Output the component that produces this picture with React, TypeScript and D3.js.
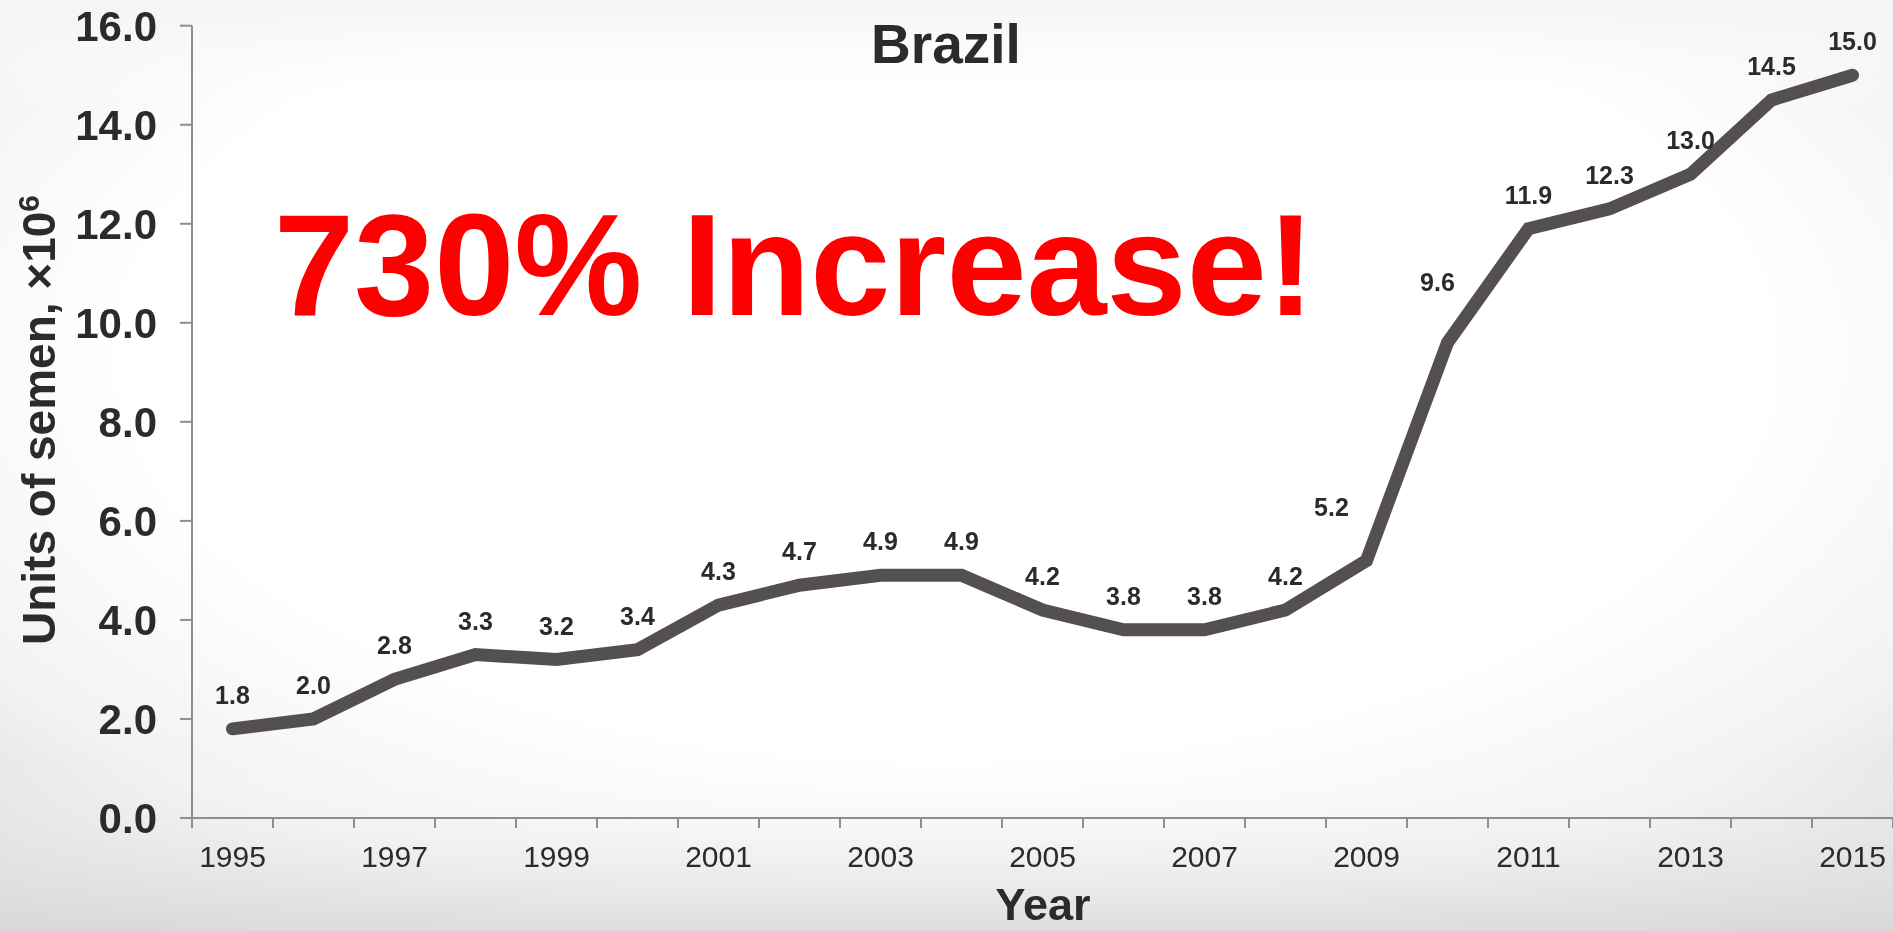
import React from "react";
import * as d3 from "d3";

const years = [1995, 1996, 1997, 1998, 1999, 2000, 2001, 2002, 2003, 2004, 2005, 2006, 2007, 2008, 2009, 2010, 2011, 2012, 2013, 2014, 2015];
const values = [1.8, 2.0, 2.8, 3.3, 3.2, 3.4, 4.3, 4.7, 4.9, 4.9, 4.2, 3.8, 3.8, 4.2, 5.2, 9.6, 11.9, 12.3, 13.0, 14.5, 15.0];
const yTicks = [0, 2, 4, 6, 8, 10, 12, 14, 16];
const xTickLabels = [1995, 1997, 1999, 2001, 2003, 2005, 2007, 2009, 2011, 2013, 2015];
const chartTitle = "Brazil";
const headline = "730% Increase!";
const xTitle = "Year";

const W = 1893;
const H = 931;
const FONT = "'Liberation Sans', Arial, Helvetica, sans-serif";
const TEXT = "#2e2a2a";
const AXIS = "#8e8e8e";
const LINE = "#545050";

// label nudges for the two labels placed off their points
const labelNudge: Record<number, [number, number]> = {
  2009: [-35, -45],
  2010: [-10, -52],
};

export default function App() {
  const x = d3.scaleBand<number>().domain(years).range([192, 1893]).paddingInner(0).paddingOuter(0);
  const y = d3.scaleLinear().domain([0, 16]).range([818, 25.7]);
  const bw = x.bandwidth();
  const data = years.map((yr, i) => ({ year: yr, value: values[i] }));
  const line = d3
    .line<{ year: number; value: number }>()
    .x((d) => (x(d.year) as number) + bw / 2)
    .y((d) => y(d.value));

  const boundaries = years.map((yr) => x(yr) as number).concat([(x(years[years.length - 1]) as number) + bw]);

  return (
    <svg
      width={W}
      height={H}
      style={{ position: "fixed", left: 0, top: 0, display: "block" }}
      fontFamily={FONT}
    >
      <defs>
        <radialGradient id="bg" cx="50%" cy="38%" r="78%" fx="50%" fy="38%">
          <stop offset="0" stopColor="#ffffff" />
          <stop offset="0.55" stopColor="#ffffff" />
          <stop offset="0.78" stopColor="#f2f2f2" />
          <stop offset="1" stopColor="#d6d6d6" />
        </radialGradient>
        <linearGradient id="topfade" x1="0" y1="0" x2="0" y2="1">
          <stop offset="0" stopColor="#f4f4f4" stopOpacity="1" />
          <stop offset="0.12" stopColor="#ffffff" stopOpacity="0" />
          <stop offset="0.82" stopColor="#ffffff" stopOpacity="0" />
          <stop offset="1" stopColor="#d9d9d9" stopOpacity="0.8" />
        </linearGradient>
      </defs>
      <rect x={0} y={0} width={W} height={H} fill="url(#bg)" />
      <rect x={0} y={0} width={W} height={H} fill="url(#topfade)" />

      {/* y axis */}
      <line x1={192} x2={192} y1={y(16)} y2={y(0)} stroke={AXIS} strokeWidth={2} />
      {yTicks.map((t) => (
        <g key={t}>
          <line x1={180} x2={192} y1={y(t)} y2={y(t)} stroke={AXIS} strokeWidth={2} />
          <text x={157} y={y(t) + 15} textAnchor="end" fontSize={42} fontWeight="bold" fill={TEXT}>
            {t.toFixed(1)}
          </text>
        </g>
      ))}

      {/* x axis */}
      <line x1={180} x2={W} y1={y(0)} y2={y(0)} stroke={AXIS} strokeWidth={2} />
      {boundaries.map((b, i) => (
        <line key={i} x1={b} x2={b} y1={y(0)} y2={y(0) + 10} stroke={AXIS} strokeWidth={2} />
      ))}
      {xTickLabels.map((yr) => (
        <text key={yr} x={(x(yr) as number) + bw / 2} y={867} textAnchor="middle" fontSize={30} fill={TEXT}>
          {yr}
        </text>
      ))}

      {/* axis titles */}
      <text x={1043} y={920} textAnchor="middle" fontSize={45} fontWeight="bold" fill={TEXT}>
        {xTitle}
      </text>
      <text transform="translate(55,420) rotate(-90)" textAnchor="middle" fontSize={46} fontWeight="bold" fill={TEXT}>
        Units of semen, ×10<tspan fontSize={30} dy={-16}>6</tspan>
      </text>

      {/* chart title */}
      <text x={946} y={63} textAnchor="middle" fontSize={55} fontWeight="bold" fill={TEXT}>
        {chartTitle}
      </text>

      {/* line */}
      <path d={line(data) || ""} fill="none" stroke={LINE} strokeWidth={13} strokeLinecap="round" strokeLinejoin="miter" />

      {/* data labels */}
      {data.map((d) => {
        const [dx, dy] = labelNudge[d.year] || [0, -25];
        return (
          <text
            key={d.year}
            x={(x(d.year) as number) + bw / 2 + dx}
            y={y(d.value) + dy}
            textAnchor="middle"
            fontSize={25}
            fontWeight="bold"
            fill={TEXT}
          >
            {d.value.toFixed(1)}
          </text>
        );
      })}

      {/* headline */}
      <text x={274} y={315} fontSize={144} fontWeight="bold" fill="#ff0000">
        {headline}
      </text>
    </svg>
  );
}
